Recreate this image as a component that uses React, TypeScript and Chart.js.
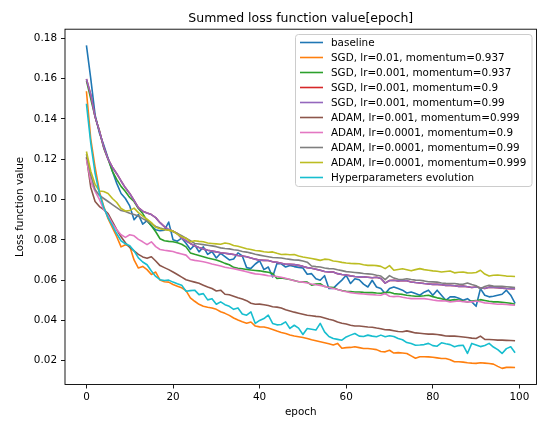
import React, { useEffect, useRef } from 'react';
import { Chart, registerables } from 'chart.js';

Chart.register(...registerables);

const titleText = 'Summed loss function value[epoch]';
const xLabel = 'epoch';
const yLabel = 'Loss function value';

const xTicks = [0, 20, 40, 60, 80, 100];
const yTicks = [0.02, 0.04, 0.06, 0.08, 0.1, 0.12, 0.14, 0.16, 0.18];

const epochs = Array.from({ length: 100 }, (_, i) => i);

const seriesNames = [
  'baseline',
  'SGD, lr=0.01, momentum=0.937',
  'SGD, lr=0.001, momentum=0.937',
  'SGD, lr=0.001, momentum=0.9',
  'SGD, lr=0.001, momentum=0.99',
  'ADAM, lr=0.001, momentum=0.999',
  'ADAM, lr=0.0001, momentum=0.9',
  'ADAM, lr=0.0001, momentum=0.99',
  'ADAM, lr=0.0001, momentum=0.999',
  'Hyperparameters evolution',
];

const seriesColors = ['#1f77b4', '#ff7f0e', '#2ca02c', '#d62728', '#9467bd', '#8c564b', '#e377c2', '#7f7f7f', '#bcbd22', '#17becf'];

const baseline = [
  0.1765, 0.1600, 0.1420, 0.1330, 0.1270, 0.1205, 0.1140, 0.1080, 0.1030, 0.1005,
  0.0968, 0.0900, 0.0925, 0.0878, 0.0895, 0.0870, 0.0850, 0.0845, 0.0848, 0.0888,
  0.0800, 0.0793, 0.0808, 0.0783, 0.0752, 0.0775, 0.0740, 0.0765, 0.0728, 0.0742,
  0.0710, 0.0733, 0.0717, 0.0700, 0.0705, 0.0735, 0.0720, 0.0662, 0.0658, 0.0680,
  0.0696, 0.0652, 0.0665, 0.0616, 0.0682, 0.0681, 0.0665, 0.0673, 0.0667, 0.0663,
  0.0660, 0.0629, 0.0632, 0.0607, 0.0599, 0.0622, 0.0558, 0.0559, 0.0580, 0.0600,
  0.0624, 0.0583, 0.0607, 0.0602, 0.0580, 0.0566, 0.0599, 0.0566, 0.0558, 0.0533,
  0.0558, 0.0566, 0.0558, 0.0550, 0.0536, 0.0541, 0.0533, 0.0525, 0.0540, 0.0550,
  0.0525, 0.0550, 0.0525, 0.0500, 0.0517, 0.0517, 0.0510, 0.0500, 0.0508, 0.0492,
  0.0470, 0.0558, 0.0525, 0.0517, 0.0520, 0.0525, 0.0530, 0.0550, 0.0525, 0.0484,
];

const sgdLr01M0937 = [
  0.1537, 0.1300, 0.1160, 0.1040, 0.0965, 0.0905, 0.0860, 0.0815, 0.0765, 0.0775,
  0.0768, 0.0700, 0.0660, 0.0668, 0.0652, 0.0628, 0.0640, 0.0600, 0.0592, 0.0590,
  0.0578, 0.0570, 0.0562, 0.0548, 0.0512, 0.0495, 0.0480, 0.0470, 0.0465, 0.0462,
  0.0455, 0.0443, 0.0435, 0.0425, 0.0412, 0.0402, 0.0393, 0.0386, 0.0392, 0.0372,
  0.0368, 0.0367, 0.0362, 0.0355, 0.0347, 0.0340, 0.0335, 0.0328, 0.0323, 0.0319,
  0.0315, 0.0310, 0.0304, 0.0299, 0.0294, 0.0289, 0.0284, 0.0278, 0.0286, 0.0262,
  0.0265, 0.0266, 0.0269, 0.0265, 0.0261, 0.0261, 0.0258, 0.0255, 0.0246, 0.0244,
  0.0252, 0.0238, 0.0240, 0.0238, 0.0236, 0.0224, 0.0212, 0.0220, 0.0220, 0.0219,
  0.0217, 0.0214, 0.0211, 0.0211, 0.0205, 0.0195, 0.0195, 0.0193, 0.0190, 0.0188,
  0.0187, 0.0190, 0.0188, 0.0186, 0.0183, 0.0172, 0.0162, 0.0167, 0.0167, 0.0166,
];

const sgdLr001M0937 = [
  0.1590, 0.1500, 0.1410, 0.1340, 0.1255, 0.1200, 0.1140, 0.1100, 0.1065, 0.1040,
  0.1010, 0.0990, 0.0955, 0.0930, 0.0895, 0.0870, 0.0840, 0.0805, 0.0795, 0.0792,
  0.0790, 0.0785, 0.0778, 0.0765, 0.0735, 0.0728, 0.0722, 0.0716, 0.0710, 0.0705,
  0.0700, 0.0692, 0.0683, 0.0676, 0.0663, 0.0659, 0.0656, 0.0653, 0.0650, 0.0648,
  0.0646, 0.0642, 0.0639, 0.0633, 0.0608, 0.0611, 0.0607, 0.0603, 0.0598, 0.0592,
  0.0591, 0.0590, 0.0575, 0.0580, 0.0582, 0.0568, 0.0565, 0.0563, 0.0553, 0.0548,
  0.0545, 0.0543, 0.0541, 0.0541, 0.0539, 0.0538, 0.0538, 0.0536, 0.0535, 0.0538,
  0.0540, 0.0533, 0.0531, 0.0529, 0.0525, 0.0522, 0.0520, 0.0520, 0.0522, 0.0525,
  0.0518, 0.0512, 0.0508, 0.0502, 0.0500, 0.0503, 0.0501, 0.0496, 0.0492, 0.0496,
  0.0498, 0.0503, 0.0499, 0.0495, 0.0492, 0.0492, 0.0490, 0.0488, 0.0485, 0.0480,
];

// hidden underneath the purple curve in the reference
const sgdLr001M09 = [
  0.1598, 0.1520, 0.1410, 0.1340, 0.1260, 0.1200, 0.1160, 0.1128, 0.1092, 0.1058,
  0.1030, 0.0995, 0.0960, 0.0942, 0.0933, 0.0925, 0.0910, 0.0885, 0.0865, 0.0850,
  0.0843, 0.0830, 0.0808, 0.0795, 0.0782, 0.0770, 0.0762, 0.0755, 0.0748, 0.0744,
  0.0740, 0.0736, 0.0733, 0.0730, 0.0727, 0.0722, 0.0720, 0.0716, 0.0710, 0.0704,
  0.0699, 0.0698, 0.0697, 0.0691, 0.0688, 0.0684, 0.0679, 0.0678, 0.0677, 0.0673,
  0.0668, 0.0662, 0.0659, 0.0654, 0.0649, 0.0643, 0.0641, 0.0640, 0.0632, 0.0628,
  0.0625, 0.0621, 0.0618, 0.0616, 0.0616, 0.0614, 0.0612, 0.0614, 0.0608, 0.0585,
  0.0598, 0.0599, 0.0596, 0.0598, 0.0597, 0.0591, 0.0588, 0.0586, 0.0583, 0.0581,
  0.0579, 0.0579, 0.0577, 0.0574, 0.0574, 0.0572, 0.0569, 0.0570, 0.0567, 0.0563,
  0.0566, 0.0562, 0.0558, 0.0565, 0.0564, 0.0562, 0.0560, 0.0558, 0.0557, 0.0557,
];

const sgdLr001M099 = [
  0.1598, 0.1520, 0.1410, 0.1340, 0.1260, 0.1200, 0.1160, 0.1128, 0.1092, 0.1058,
  0.1030, 0.0995, 0.0960, 0.0942, 0.0933, 0.0925, 0.0910, 0.0885, 0.0865, 0.0850,
  0.0843, 0.0830, 0.0808, 0.0795, 0.0782, 0.0770, 0.0762, 0.0755, 0.0748, 0.0744,
  0.0740, 0.0736, 0.0733, 0.0730, 0.0727, 0.0722, 0.0720, 0.0716, 0.0710, 0.0704,
  0.0699, 0.0698, 0.0697, 0.0691, 0.0688, 0.0684, 0.0679, 0.0678, 0.0677, 0.0673,
  0.0668, 0.0662, 0.0659, 0.0654, 0.0649, 0.0643, 0.0641, 0.0640, 0.0632, 0.0628,
  0.0625, 0.0621, 0.0618, 0.0616, 0.0616, 0.0614, 0.0612, 0.0614, 0.0608, 0.0585,
  0.0598, 0.0599, 0.0596, 0.0598, 0.0597, 0.0591, 0.0588, 0.0586, 0.0583, 0.0581,
  0.0579, 0.0579, 0.0577, 0.0574, 0.0574, 0.0572, 0.0569, 0.0570, 0.0567, 0.0563,
  0.0566, 0.0562, 0.0558, 0.0565, 0.0564, 0.0562, 0.0560, 0.0558, 0.0557, 0.0557,
];

const adamLr001M0999 = [
  0.1210, 0.1060, 0.0990, 0.0965, 0.0950, 0.0930, 0.0890, 0.0850, 0.0815, 0.0785,
  0.0762, 0.0745, 0.0728, 0.0715, 0.0708, 0.0716, 0.0695, 0.0672, 0.0662, 0.0652,
  0.0640, 0.0628, 0.0615, 0.0602, 0.0596, 0.0590, 0.0584, 0.0575, 0.0566, 0.0558,
  0.0546, 0.0550, 0.0530, 0.0527, 0.0520, 0.0512, 0.0506, 0.0498, 0.0485, 0.0480,
  0.0481, 0.0478, 0.0474, 0.0468, 0.0466, 0.0462, 0.0453, 0.0447, 0.0441, 0.0436,
  0.0431, 0.0426, 0.0423, 0.0420, 0.0418, 0.0412, 0.0406, 0.0401, 0.0392, 0.0386,
  0.0382, 0.0376, 0.0372, 0.0372, 0.0370, 0.0367, 0.0366, 0.0362, 0.0359, 0.0354,
  0.0353, 0.0349, 0.0345, 0.0344, 0.0348, 0.0343, 0.0338, 0.0336, 0.0334, 0.0332,
  0.0332, 0.0330, 0.0327, 0.0323, 0.0322, 0.0322, 0.0320, 0.0318, 0.0315, 0.0312,
  0.0310, 0.0322, 0.0306, 0.0305, 0.0304, 0.0302, 0.0302, 0.0301, 0.0300, 0.0299,
];

const adamLr0001M09 = [
  0.1200, 0.1090, 0.1040, 0.1000, 0.0950, 0.0920, 0.0880, 0.0850, 0.0825, 0.0812,
  0.0825, 0.0820, 0.0802, 0.0790, 0.0776, 0.0790, 0.0766, 0.0752, 0.0748, 0.0745,
  0.0742, 0.0735, 0.0730, 0.0724, 0.0702, 0.0698, 0.0695, 0.0691, 0.0686, 0.0680,
  0.0675, 0.0670, 0.0664, 0.0660, 0.0657, 0.0652, 0.0647, 0.0641, 0.0636, 0.0631,
  0.0629, 0.0626, 0.0622, 0.0620, 0.0618, 0.0614, 0.0609, 0.0603, 0.0597, 0.0593,
  0.0590, 0.0586, 0.0581, 0.0577, 0.0574, 0.0569, 0.0563, 0.0558, 0.0553, 0.0547,
  0.0542, 0.0538, 0.0535, 0.0533, 0.0531, 0.0529, 0.0528, 0.0526, 0.0525, 0.0533,
  0.0520, 0.0518, 0.0520, 0.0515, 0.0511, 0.0508, 0.0508, 0.0509, 0.0508, 0.0505,
  0.0501, 0.0498, 0.0497, 0.0496, 0.0492, 0.0494, 0.0497, 0.0493, 0.0492, 0.0492,
  0.0496, 0.0493, 0.0487, 0.0485, 0.0483, 0.0480, 0.0481, 0.0479, 0.0477, 0.0475,
];

const adamLr0001M099 = [
  0.1225, 0.1120, 0.1050, 0.1020, 0.1005, 0.0990, 0.0975, 0.0960, 0.0945, 0.0940,
  0.0932, 0.0925, 0.0918, 0.0905, 0.0893, 0.0880, 0.0866, 0.0858, 0.0852, 0.0848,
  0.0840, 0.0832, 0.0820, 0.0808, 0.0795, 0.0782, 0.0779, 0.0776, 0.0773, 0.0770,
  0.0766, 0.0760, 0.0757, 0.0755, 0.0751, 0.0748, 0.0742, 0.0739, 0.0734, 0.0728,
  0.0724, 0.0720, 0.0716, 0.0712, 0.0711, 0.0710, 0.0706, 0.0703, 0.0700, 0.0699,
  0.0695, 0.0689, 0.0670, 0.0667, 0.0665, 0.0660, 0.0657, 0.0656, 0.0651, 0.0647,
  0.0642, 0.0640, 0.0638, 0.0636, 0.0633, 0.0631, 0.0629, 0.0624, 0.0620, 0.0602,
  0.0622, 0.0610, 0.0604, 0.0603, 0.0607, 0.0603, 0.0600, 0.0599, 0.0596, 0.0592,
  0.0591, 0.0590, 0.0586, 0.0584, 0.0583, 0.0583, 0.0580, 0.0579, 0.0586, 0.0578,
  0.0572, 0.0557, 0.0568, 0.0574, 0.0570, 0.0569, 0.0569, 0.0567, 0.0565, 0.0563,
];

const adamLr0001M0999 = [
  0.1238, 0.1140, 0.1075, 0.1042, 0.1040, 0.1030, 0.1005, 0.0985, 0.0955, 0.0943,
  0.0945, 0.0957, 0.0935, 0.0918, 0.0902, 0.0885, 0.0862, 0.0855, 0.0850, 0.0848,
  0.0843, 0.0828, 0.0815, 0.0808, 0.0790, 0.0795, 0.0792, 0.0790, 0.0784, 0.0782,
  0.0780, 0.0778, 0.0784, 0.0780, 0.0772, 0.0768, 0.0762, 0.0756, 0.0752, 0.0747,
  0.0745, 0.0741, 0.0738, 0.0740, 0.0733, 0.0727, 0.0728, 0.0726, 0.0727, 0.0720,
  0.0715, 0.0711, 0.0707, 0.0703, 0.0698, 0.0704, 0.0702, 0.0695, 0.0692, 0.0688,
  0.0685, 0.0683, 0.0682, 0.0681, 0.0676, 0.0673, 0.0674, 0.0672, 0.0668, 0.0657,
  0.0672, 0.0649, 0.0653, 0.0656, 0.0651, 0.0646, 0.0652, 0.0657, 0.0652, 0.0649,
  0.0646, 0.0644, 0.0640, 0.0643, 0.0645, 0.0636, 0.0639, 0.0640, 0.0636, 0.0635,
  0.0638, 0.0649, 0.0630, 0.0620, 0.0624, 0.0625, 0.0623, 0.0620, 0.0619, 0.0618,
];

const hypEvolution = [
  0.1475, 0.1280, 0.1130, 0.1030, 0.0960, 0.0910, 0.0870, 0.0830, 0.0795, 0.0780,
  0.0770, 0.0745, 0.0710, 0.0690, 0.0676, 0.0645, 0.0618, 0.0602, 0.0598, 0.0600,
  0.0590, 0.0582, 0.0575, 0.0545, 0.0548, 0.0550, 0.0528, 0.0533, 0.0502, 0.0508,
  0.0480, 0.0492, 0.0478, 0.0470, 0.0455, 0.0462, 0.0432, 0.0426, 0.0442, 0.0385,
  0.0400, 0.0409, 0.0426, 0.0385, 0.0378, 0.0380, 0.0393, 0.0360, 0.0376, 0.0362,
  0.0330, 0.0360, 0.0356, 0.0352, 0.0385, 0.0343, 0.0320, 0.0310, 0.0306, 0.0302,
  0.0318, 0.0327, 0.0335, 0.0322, 0.0320, 0.0327, 0.0322, 0.0319, 0.0327, 0.0319,
  0.0324, 0.0320, 0.0310, 0.0304, 0.0290, 0.0285, 0.0277, 0.0278, 0.0280, 0.0286,
  0.0275, 0.0272, 0.0289, 0.0284, 0.0280, 0.0269, 0.0275, 0.0277, 0.0236, 0.0286,
  0.0278, 0.0270, 0.0276, 0.0286, 0.0268, 0.0255, 0.0236, 0.0260, 0.0269, 0.0240,
];

const seriesValues = [
  baseline,
  sgdLr01M0937,
  sgdLr001M0937,
  sgdLr001M09,
  sgdLr001M099,
  adamLr001M0999,
  adamLr0001M09,
  adamLr0001M099,
  adamLr0001M0999,
  hypEvolution,
];

const FONT = '"DejaVu Sans", Verdana, sans-serif';
const LINE_W = 1.6;

const decorPlugin = {
  id: 'decor',
  afterDatasetsDraw(chart: any) {
    const { ctx, chartArea: a } = chart;
    ctx.save();
    // axes frame
    ctx.strokeStyle = '#000';
    ctx.lineWidth = 0.9;
    ctx.strokeRect(a.left, a.top, a.right - a.left, a.bottom - a.top);

    // legend box
    const lx = 295.5, ly = 34.5, lw = 236.5, lh = 152;
    const r = 3;
    ctx.beginPath();
    ctx.moveTo(lx + r, ly);
    ctx.lineTo(lx + lw - r, ly);
    ctx.arcTo(lx + lw, ly, lx + lw, ly + r, r);
    ctx.lineTo(lx + lw, ly + lh - r);
    ctx.arcTo(lx + lw, ly + lh, lx + lw - r, ly + lh, r);
    ctx.lineTo(lx + r, ly + lh);
    ctx.arcTo(lx, ly + lh, lx, ly + lh - r, r);
    ctx.lineTo(lx, ly + r);
    ctx.arcTo(lx, ly, lx + r, ly, r);
    ctx.closePath();
    ctx.fillStyle = 'rgba(255,255,255,0.8)';
    ctx.fill();
    ctx.strokeStyle = '#cccccc';
    ctx.lineWidth = 1;
    ctx.stroke();

    ctx.font = `10.4px ${FONT}`;
    ctx.textAlign = 'left';
    ctx.textBaseline = 'middle';
    seriesNames.forEach((name, i) => {
      const y = 42.5 + i * 15;
      ctx.strokeStyle = seriesColors[i];
      ctx.lineWidth = LINE_W;
      ctx.beginPath();
      ctx.moveTo(300, y);
      ctx.lineTo(323, y);
      ctx.stroke();
      ctx.fillStyle = '#000';
      ctx.fillText(name, 331, y + 0.5);
    });

    // title
    ctx.font = `12.5px ${FONT}`;
    ctx.textAlign = 'center';
    ctx.textBaseline = 'alphabetic';
    ctx.fillStyle = '#000';
    ctx.fillText(titleText, (a.left + a.right) / 2, 21.5);
    ctx.restore();
  },
};

export default function App() {
  const canvasRef = useRef<HTMLCanvasElement | null>(null);

  useEffect(() => {
    const canvas = canvasRef.current;
    if (!canvas) return;
    const datasets = seriesValues.map((vals, i) => ({
      label: seriesNames[i],
      data: vals.map((v, j) => ({ x: epochs[j], y: v })),
      borderColor: seriesColors[i],
      backgroundColor: seriesColors[i],
      borderWidth: LINE_W,
      pointRadius: 0,
      pointHoverRadius: 0,
      tension: 0,
      fill: false,
      borderJoinStyle: 'round' as const,
      order: seriesValues.length - 1 - i,
    }));

    const chart = new Chart(canvas, {
      type: 'line',
      data: { datasets },
      plugins: [decorPlugin],
      options: {
        animation: false,
        responsive: false,
        devicePixelRatio: 1,
        parsing: true,
        layout: { padding: { top: 29.2, right: 2.5, bottom: 0, left: 0 } },
        plugins: {
          legend: { display: false },
          title: { display: false },
          tooltip: { enabled: false },
        },
        scales: {
          x: {
            type: 'linear',
            min: -4.95,
            max: 103.95,
            afterFit: (s: any) => { s.height = 36.5; },
            afterBuildTicks: (s: any) => { s.ticks = xTicks.map((v) => ({ value: v })); },
            ticks: {
              includeBounds: false,
              autoSkip: false,
              maxRotation: 0,
              padding: 3,
              color: '#000',
              font: { family: FONT, size: 10.4 },
              callback: (v: any) => String(v),
            },
            grid: { display: true, drawOnChartArea: false, drawTicks: true, tickLength: 4, color: '#000', lineWidth: 0.9 },
            border: { display: false },
            title: { display: true, text: xLabel, color: '#000', font: { family: FONT, size: 10.4 }, padding: { top: 0, bottom: 2 } },
          },
          y: {
            type: 'linear',
            min: 0.0082,
            max: 0.1845,
            afterFit: (s: any) => { s.width = 65; },
            afterBuildTicks: (s: any) => { s.ticks = yTicks.map((v) => ({ value: v })); },
            ticks: {
              includeBounds: false,
              autoSkip: false,
              padding: 4,
              color: '#000',
              font: { family: FONT, size: 10.4 },
              callback: (v: any) => Number(v).toFixed(2),
            },
            grid: { display: true, drawOnChartArea: false, drawTicks: true, tickLength: 4, color: '#000', lineWidth: 0.9 },
            border: { display: false },
            title: { display: true, text: yLabel, color: '#000', font: { family: FONT, size: 10.4 }, padding: { top: 14, bottom: 0 } },
          },
        },
      },
    });
    return () => chart.destroy();
  }, []);

  return (
    <div style={{ position: 'absolute', left: 0, top: 0, width: 539, height: 421, background: '#fff' }}>
      <canvas ref={canvasRef} width={539} height={421} style={{ display: 'block', width: 539, height: 421 }} />
    </div>
  );
}
